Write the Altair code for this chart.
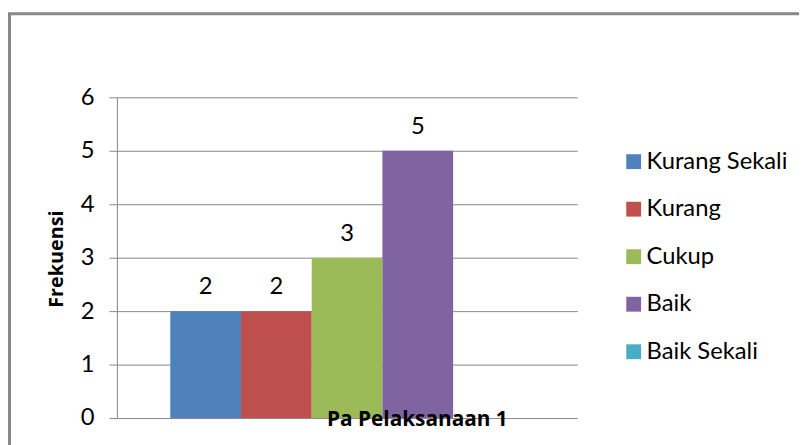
import altair as alt
import pandas as pd

series = ["Kurang Sekali", "Kurang", "Cukup", "Baik", "Baik Sekali"]
values = [2, 2, 3, 5, 0]
colors = ["#4F81BD", "#C0504D", "#9BBB59", "#8064A2", "#4BACC6"]
y_ticks = [0, 1, 2, 3, 4, 5, 6]

df = pd.DataFrame({"series": series, "value": values})

FONT = "Lato"
TFONT = "Open Sans"

xscale = alt.Scale(domain=series, paddingInner=0, paddingOuter=0.755)
base = alt.Chart(df)

bars = base.mark_bar().encode(
    x=alt.X("series:N", scale=xscale, sort=series,
            axis=alt.Axis(labels=False, ticks=False, domain=False, grid=False,
                          zindex=1,
                          title="Pa Pelaksanaan 1", titleFont=TFONT,
                          titleFontSize=21, titleFontWeight="bold",
                          titleColor="#000000", titleX=303, titleY=8,
                          titleBaseline="alphabetic", titleAlign="center")),
    y=alt.Y("value:Q", scale=alt.Scale(domain=[0, 6], nice=False),
            axis=alt.Axis(values=y_ticks, format="d", title="Frekuensi",
                          titleFont=TFONT, titleFontSize=20,
                          titleFontWeight="bold",
                          titleColor="#000000", titleAngle=-90,
                          titleX=-61, titleY=163, titleAlign="center",
                          titleBaseline="middle",
                          labelFont=FONT, labelFontSize=24, labelColor="#000000",
                          labelPadding=15, tickSize=8, tickColor="#868686",
                          domainColor="#868686", gridColor="#868686",
                          grid=True)),
    color=alt.Color("series:N", sort=series,
                    scale=alt.Scale(domain=series, range=colors),
                    legend=alt.Legend(title=None, orient="none",
                                      legendX=510, legendY=53,
                                      symbolType="square", symbolSize=225,
                                      symbolStrokeWidth=0,
                                      labelFont=FONT, labelFontSize=24,
                                      labelColor="#000000", rowPadding=24,
                                      labelOffset=1, labelLimit=300)),
)

labels = base.transform_filter("datum.value > 0").mark_text(
    font=FONT, fontSize=24, color="#000000", baseline="alphabetic", dy=-17
).encode(
    x=alt.X("series:N", scale=xscale, sort=series),
    y=alt.Y("value:Q"),
    text=alt.Text("value:Q"),
)

frame = alt.Chart(pd.DataFrame({"a": [0]})).mark_rect(
    fill=None, stroke="#888888", strokeWidth=3
).encode(
    x=alt.value(-108.5), x2=alt.value(800), y=alt.value(-84.5), y2=alt.value(500)
)

chart = alt.layer(frame, bars, labels).properties(
    width=465, height=324,
    padding={"left": 110, "top": 88, "right": 224, "bottom": 25},
    autosize="none",
).configure_view(stroke=None).configure_axis(gridWidth=1, domainWidth=1, tickWidth=1)

chart.save("out.html", embed_options={"renderer": "svg", "actions": False})
